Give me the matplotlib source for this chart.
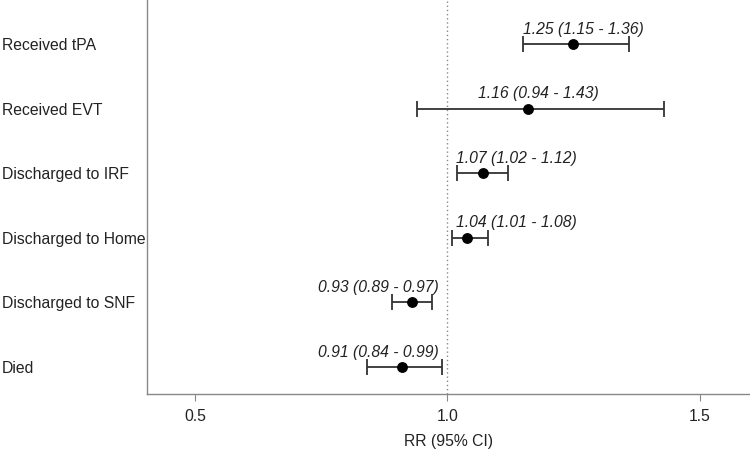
import matplotlib
matplotlib.use("Agg")
import matplotlib.pyplot as plt

outcomes = ["Received tPA", "Received EVT", "Discharged to IRF",
            "Discharged to Home", "Discharged to SNF", "Died"]
rr = [1.25, 1.16, 1.07, 1.04, 0.93, 0.91]
ci_low = [1.15, 0.94, 1.02, 1.01, 0.89, 0.84]
ci_high = [1.36, 1.43, 1.12, 1.08, 0.97, 0.99]
x_ticks = [0.5, 1.0, 1.5]

plt.rcParams['font.family'] = ['Liberation Sans', 'DejaVu Sans']
FS = 11.3

fig = plt.figure(figsize=(7.5, 4.54), dpi=100)
ax = fig.add_axes([0.196, 0.132, 0.804, 0.868])

n = len(outcomes)
ys = [n - i for i in range(n)]

ax.axvline(1.0, color="#888888", linestyle=(0, (1, 2)), linewidth=1.0, zorder=1)

for y, est, lo, hi in zip(ys, rr, ci_low, ci_high):
    ax.errorbar(est, y, xerr=[[est - lo], [hi - est]], fmt="o", color="black",
                ecolor="#333333", elinewidth=1.3, capsize=6, capthick=1.3,
                markersize=6.8, zorder=3)
    label = f"{est:.2f} ({lo:.2f} - {hi:.2f})"
    if est >= 1:
        ax.text(max(est - 0.1, 1.018), y + 0.23, label, ha="left", va="center",
                fontsize=FS, style="italic", color="#222222")
    else:
        ax.text(min(est + 0.1, 0.984), y + 0.23, label, ha="right", va="center",
                fontsize=FS, style="italic", color="#222222")

ax.set_xlim(0.405, 1.6)
ax.set_ylim(0.58, n + 0.68)
ax.set_xticks(x_ticks)
ax.set_xticklabels([f"{t:.1f}" for t in x_ticks])
ax.set_yticks(ys)
ax.set_yticklabels(outcomes)
ax.tick_params(axis="y", length=0, pad=104.5, labelsize=FS, labelcolor="#222222")
for lab in ax.get_yticklabels():
    lab.set_horizontalalignment("left")
ax.tick_params(axis="x", length=5, color="#888888", labelsize=FS, labelcolor="#222222", pad=6)

for side in ["top", "right"]:
    ax.spines[side].set_visible(False)
for side in ["left", "bottom"]:
    ax.spines[side].set_color("#888888")
    ax.spines[side].set_linewidth(1.0)

ax.set_xlabel("RR (95% CI)", fontsize=FS, color="#222222", labelpad=7)

fig.savefig("out.png", dpi=100)
